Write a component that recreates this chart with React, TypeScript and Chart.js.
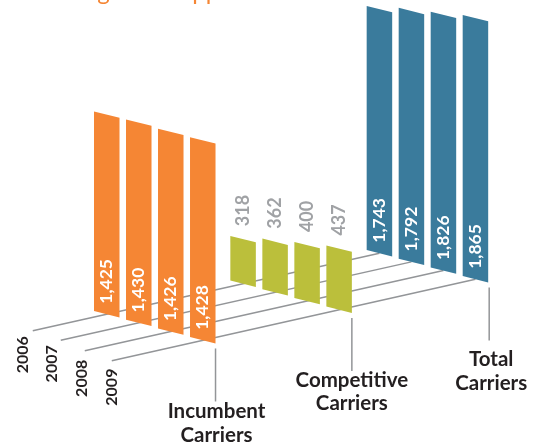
import React, { useEffect, useRef } from "react";
import { Chart, BarController, BarElement, CategoryScale, LinearScale } from "chart.js";

const categories = ["Incumbent Carriers", "Competitive Carriers", "Total Carriers"];
const years = ["2006", "2007", "2008", "2009"];
const values2006 = [1425, 318, 1743];
const values2007 = [1430, 362, 1792];
const values2008 = [1426, 400, 1826];
const values2009 = [1428, 437, 1865];
const series = [values2006, values2007, values2008, values2009];
const colors = ["#F58634", "#BBBF3B", "#3A7B9C"];
const titleText = "Receiving USF Support";

const INK = "#231F20";
const GREY = "#939598";
const LABEL_GREY = "#A0A2A5";
const SHEAR = 0.25;
const RISE_PER_CATEGORY = -30.5;
const DROP_PER_YEAR = 8.7;

const fmt = (v: number) => v.toLocaleString("en-US");
const baseShift = (cat: number, year: number) => RISE_PER_CATEGORY * cat + DROP_PER_YEAR * year;

class SkewBarController extends BarController {
  static id = "skewBar";
  static defaults = BarController.defaults;
  draw() {
    const chart = (this as any).chart;
    const ctx = chart.ctx;
    const meta = this.getMeta();
    meta.data.forEach((el: any, i: number) => {
      const left = el.x - el.width / 2;
      ctx.save();
      ctx.transform(1, SHEAR, 0, 1, 0, baseShift(i, meta.index) - SHEAR * left);
      el.draw(ctx);
      ctx.restore();
    });
  }
}

Chart.register(SkewBarController, BarElement, CategoryScale, LinearScale);

const baseCentre = (el: any, cat: number, year: number) => ({
  x: el.x,
  y: el.base + baseShift(cat, year) + (SHEAR * el.width) / 2,
});

const LINE_LEAD = [74, 78, 86, 91];
const YEAR_LABEL_OFFSET = [
  [-10, 24],
  [-9, 23.5],
  [-3, 27.5],
  [0, 26.5],
];
const FONT = "Lato, 'Open Sans', sans-serif";

const sceneryPlugin = {
  id: "scenery",
  beforeDatasetsDraw(chart: any) {
    const ctx = chart.ctx;
    ctx.save();
    ctx.strokeStyle = GREY;
    ctx.lineWidth = 1.5;
    years.forEach((year, j) => {
      const data = chart.getDatasetMeta(j).data;
      const a = baseCentre(data[0], 0, j);
      const b = baseCentre(data[2], 2, j);
      const slope = (b.y - a.y) / (b.x - a.x);
      const sx = a.x - LINE_LEAD[j];
      const sy = a.y - slope * LINE_LEAD[j];
      ctx.beginPath();
      ctx.moveTo(sx, sy);
      ctx.lineTo(b.x, b.y);
      ctx.stroke();
      ctx.save();
      ctx.translate(sx + YEAR_LABEL_OFFSET[j][0], sy + YEAR_LABEL_OFFSET[j][1]);
      ctx.rotate(-Math.PI / 2);
      ctx.fillStyle = INK;
      ctx.font = `bold 16px ${FONT}`;
      ctx.textAlign = "center";
      ctx.textBaseline = "middle";
      ctx.fillText(year, 0, 0);
      ctx.restore();
    });
    ctx.fillStyle = colors[0];
    ctx.font = `24px ${FONT}`;
    ctx.textAlign = "left";
    ctx.textBaseline = "alphabetic";
    ctx.fillText(titleText, 9, 0);
    ctx.restore();
  },
  afterDatasetsDraw(chart: any) {
    const ctx = chart.ctx;
    ctx.save();
    series.forEach((vals, j) => {
      const data = chart.getDatasetMeta(j).data;
      vals.forEach((v, c) => {
        const el = data[c];
        const centre = baseCentre(el, c, j);
        ctx.save();
        if (c === 1) {
          const topY = el.y + baseShift(c, j) + (SHEAR * el.width) / 2;
          ctx.translate(el.x, topY - 13);
          ctx.fillStyle = LABEL_GREY;
          ctx.font = `bold 18px ${FONT}`;
        } else {
          ctx.translate(el.x, centre.y - 10.5);
          ctx.fillStyle = "#FFFFFF";
          ctx.font = `bold 17.5px ${FONT}`;
        }
        ctx.rotate(-Math.PI / 2);
        ctx.textAlign = "left";
        ctx.textBaseline = "middle";
        ctx.fillText(fmt(v), 0, 0);
        ctx.restore();
      });
    });

    // leader lines and category captions under the last year's bar of each group
    const last = chart.getDatasetMeta(years.length - 1).data;
    const captionDx = [1, 0, 3];
    const captionDy = [68, 67, 77];
    categories.forEach((name, c) => {
      const el = last[c];
      const right = el.x + el.width / 2;
      const bottom = el.base + baseShift(c, years.length - 1) + SHEAR * el.width;
      const lineX = right + (c === 2 ? 1 : 0);
      ctx.strokeStyle = GREY;
      ctx.lineWidth = 1.5;
      ctx.beginPath();
      ctx.moveTo(lineX, bottom + 5);
      ctx.lineTo(lineX, bottom + 58);
      ctx.stroke();
      const words = name.split(" ");
      ctx.fillStyle = INK;
      ctx.font = `bold 20.5px ${FONT}`;
      ctx.textAlign = "center";
      ctx.textBaseline = "middle";
      words.forEach((w, k) => {
        ctx.fillText(w, right + captionDx[c], bottom + captionDy[c] + k * 23.5);
      });
    });
    ctx.restore();
  },
};

export default function App() {
  const ref = useRef<HTMLCanvasElement>(null);
  useEffect(() => {
    const chart = new Chart(ref.current as HTMLCanvasElement, {
      type: "skewBar" as any,
      data: {
        labels: categories,
        datasets: series.map((vals, j) => ({
          label: years[j],
          data: vals,
          backgroundColor: colors,
          borderWidth: 0,
          clip: false as any,
          categoryPercentage: 0.939,
          barPercentage: 0.797,
        })),
      },
      options: {
        responsive: false,
        animation: false,
        events: [],
        layout: { padding: { left: 86.6, right: 38.4, top: 0, bottom: 136 } },
        plugins: {},
        scales: {
          x: { type: "category", display: false },
          y: { type: "linear", display: false, min: 0, max: 2221 },
        },
      },
      plugins: [sceneryPlugin],
    });
    return () => chart.destroy();
  }, []);
  return (
    <div style={{ position: "absolute", left: 0, top: 0, width: 534, height: 447 }}>
      <canvas ref={ref} width={534} height={447} style={{ display: "block" }} />
    </div>
  );
}
